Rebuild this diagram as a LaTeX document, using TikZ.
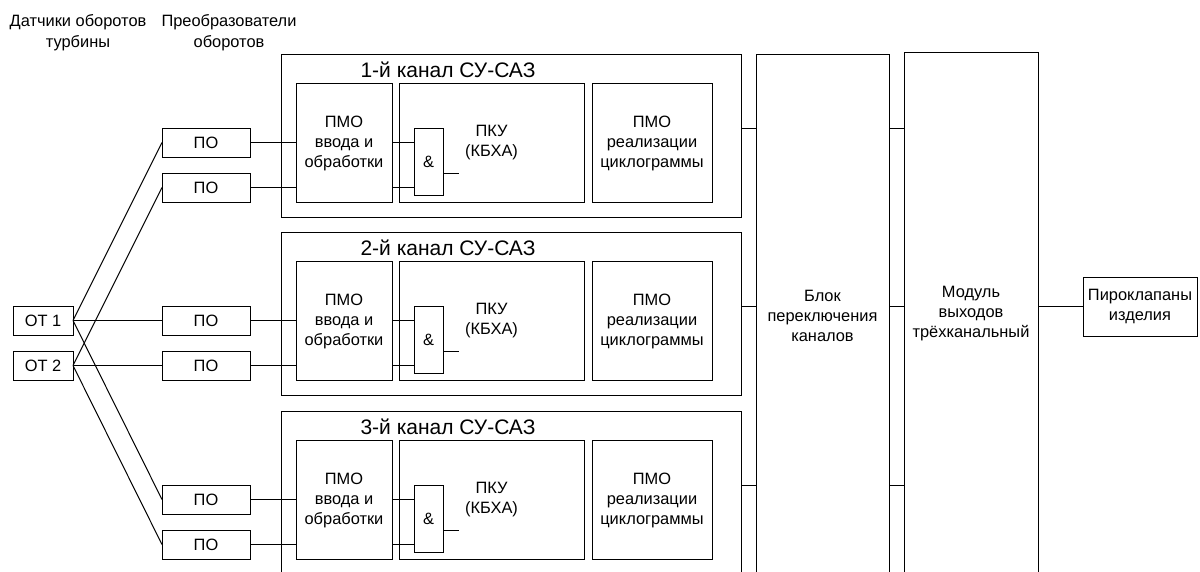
\documentclass[tikz,border=0pt]{standalone}
\usepackage{fontspec}
\setmainfont{Liberation Sans}
\newcommand{\myBody}{\fontsize{16.4}{20}\selectfont}
\newcommand{\myHead}{\fontsize{16.4}{21}\selectfont}
\newcommand{\myTitle}{\fontsize{21}{24}\selectfont}
\newcommand{\rbox}[6]{\node[boxnode, minimum width={(#4)-(#2)}, minimum height={(#5)-(#3)}] (#1) at (#2,#3) {#6};}
\begin{document}
\begin{tikzpicture}[x=1pt,y=-1pt,
  boxnode/.style={draw, line width=1pt, inner sep=0pt, outer sep=0pt, anchor=north west, align=center, font=\myBody},
  wire/.style={line width=1pt},
  lbl/.style={inner sep=0pt, align=center, font=\myBody},
  head/.style={inner sep=0pt, align=center, font=\myHead},
  ttl/.style={inner sep=0pt, font=\myTitle}]
\useasboundingbox (0,0) rectangle (1200,571);
\clip (0,0) rectangle (1200,571);

% headers
\node[head] (hd1) at (78,33) {Датчики оборотов\\турбины};
\node[head] (hd2) at (229,33) {Преобразователи\\оборотов};

% right blocks
\rbox{blok}{756}{54}{889}{620}{}
\rbox{mod}{904}{52}{1038}{620}{}
\node[lbl] (blokt) at (822.5,316) {Блок\\переключения\\каналов};
\node[lbl] (modt) at (971,314) {Модуль\\выходов\\трёхканальный};
\rbox{piro}{1083}{277}{1197}{336}{Пироклапаны\\изделия}
\draw[wire] (mod.east |- piro.west) -- (piro.west);

% sensors
\rbox{ot1}{13}{306}{73}{335}{ОТ 1}
\rbox{ot2}{13}{351}{73}{380}{ОТ 2}

% channels
\foreach \k/\t in {1/54, 2/232, 3/411} {
  \rbox{poa\k}{162}{\t+74}{250}{\t+103}{ПО}
  \rbox{pob\k}{162}{\t+119}{250}{\t+148}{ПО}
  \rbox{ch\k}{281}{\t}{741}{\t+163}{}
  \node[ttl] (tt\k) at (448,\t+16) {\k-й канал СУ-САЗ};
  \rbox{pmo\k}{296}{\t+29.5}{392}{\t+148.5}{ПМО\\ввода и\\обработки}
  \rbox{pku\k}{399}{\t+29.5}{584}{\t+148.5}{ПКУ\\(КБХА)}
  \rbox{pmr\k}{592}{\t+29.5}{712}{\t+148.5}{ПМО\\реализации\\циклограммы}
  \rbox{and\k}{414}{\t+74}{443}{\t+141}{\&}
  \draw[wire] (poa\k.east) -- (pmo\k.west |- poa\k.east);
  \draw[wire] (pob\k.east) -- (pmo\k.west |- pob\k.east);
  \draw[wire] (pmo\k.east |- poa\k.east) -- (and\k.west |- poa\k.east);
  \draw[wire] (pmo\k.east |- pob\k.east) -- (and\k.west |- pob\k.east);
  \coordinate (ao\k) at (459,\t+119);
  \draw[wire] (and\k.east |- ao\k) -- (ao\k);
  \coordinate (co\k) at (0,\t+74);
  \draw[wire] (ch\k.east |- co\k) -- (blok.west |- co\k);
  \draw[wire] (blok.east |- co\k) -- (mod.west |- co\k);
}

% sensor connections
\draw[wire] (ot1.east) -- (poa1.west);
\draw[wire] (ot2.east) -- (pob1.west);
\draw[wire] (ot1.east) -- (poa2.west);
\draw[wire] (ot2.east) -- (pob2.west);
\draw[wire] (ot1.east) -- (poa3.west);
\draw[wire] (ot2.east) -- (pob3.west);
\end{tikzpicture}
\end{document}
